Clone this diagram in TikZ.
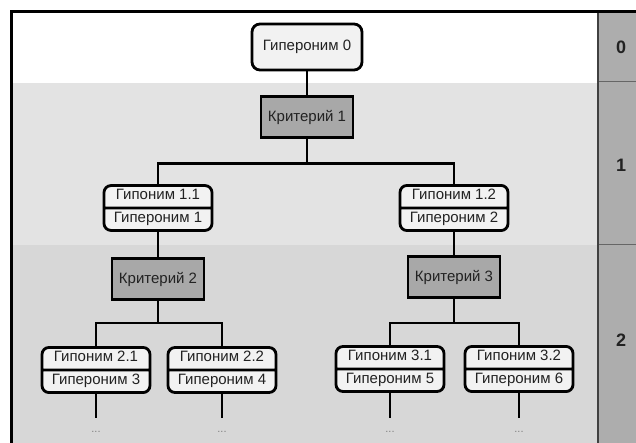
\documentclass[tikz,border=0pt]{standalone}
\usepackage{fontspec}
\setmainfont{Liberation Sans}
\usetikzlibrary{shapes.multipart}
\definecolor{bandone}{HTML}{E3E3E3}
\definecolor{bandtwo}{HTML}{D7D7D7}
\definecolor{levelcol}{HTML}{ADADAD}
\definecolor{critfill}{HTML}{A8A8A8}
\definecolor{boxfill}{HTML}{F2F2F2}
\definecolor{ink}{HTML}{222222}
\newcommand\partstrut{\rule[-4.5pt]{0pt}{14pt}}
\begin{document}
\begin{tikzpicture}[x=1pt,y=-1pt,
  txt/.style={font=\fontsize{15}{17}\selectfont, text=ink},
  rootbox/.style={txt, draw=black, line width=2.8pt, fill=boxfill, rounded corners=8pt,
    minimum width=110pt, minimum height=46pt, inner sep=0pt},
  critbox/.style={txt, draw=black, line width=2.8pt, fill=critfill,
    minimum width=92pt, minimum height=41pt, inner sep=0pt},
  twobox/.style={txt, draw=black, line width=2.8pt, fill=boxfill, rounded corners=7pt,
    rectangle split, rectangle split parts=2, rectangle split part align=center,
    minimum width=108pt, inner xsep=0pt, inner ysep=2.4pt},
  link/.style={draw=black, line width=2.8pt},
  more/.style={font=\fontsize{11}{12}\selectfont, text=gray},
  levelnum/.style={font=\fontsize{18}{20}\selectfont\bfseries, text=ink},
]
\useasboundingbox (0,0) rectangle (636,443);

% level bands
\fill[white] (11.5,11.5) rectangle (598,83);
\fill[bandone] (11.5,83) rectangle (598,245);
\fill[bandtwo] (11.5,245) rectangle (598,443);
\fill[levelcol] (598,11.5) rectangle (636,443);
\draw[line width=1pt, black!60] (598,82) -- (636,82);
\draw[line width=1pt, black!60] (598,245) -- (636,245);
\draw[line width=2.4pt, black!75] (598,11.5) -- (598,443);
\draw[line width=3pt] (11.5,443) -- (11.5,11.5) -- (636,11.5);

% level numbers
\node[levelnum] (l0) at (621,47) {0};
\node[levelnum] (l1) at (621,165) {1};
\node[levelnum] (l2) at (621,340) {2};

% tree nodes
\node[rootbox] (g0) at (307,47) {Гипероним 0};
\node[critbox] (k1) at (307,117) {Критерий 1};
\node[twobox] (h11) at (158,208) {\partstrut Гипоним 1.1\nodepart{two}\partstrut Гипероним 1};
\node[twobox] (h12) at (454,208) {\partstrut Гипоним 1.2\nodepart{two}\partstrut Гипероним 2};
\node[critbox] (k2) at (158,279) {Критерий 2};
\node[critbox] (k3) at (454,277) {Критерий 3};
\node[twobox] (h21) at (96,370) {\partstrut Гипоним 2.1\nodepart{two}\partstrut Гипероним 3};
\node[twobox] (h22) at (222,370) {\partstrut Гипоним 2.2\nodepart{two}\partstrut Гипероним 4};
\node[twobox] (h31) at (390,369) {\partstrut Гипоним 3.1\nodepart{two}\partstrut Гипероним 5};
\node[twobox] (h32) at (519,369) {\partstrut Гипоним 3.2\nodepart{two}\partstrut Гипероним 6};

% connectors
\draw[link] (g0.south) -- (k1.north);
\draw[link] (k1.south) -- ++(0,25) -| (h11.north);
\draw[link] (k1.south) -- ++(0,25) -| (h12.north);
\draw[link] (h11.south) -- (k2.north);
\draw[link] (h12.south) -- (k3.north);
\draw[link] (k2.south) -- ++(0,22) -| (h21.north);
\draw[link] (k2.south) -- ++(0,22) -| (h22.north);
\draw[link] (k3.south) -- ++(0,24) -| (h31.north);
\draw[link] (k3.south) -- ++(0,24) -| (h32.north);

% open branches
\foreach \n/\x in {h21/96, h22/222, h31/390, h32/519}{
  \coordinate (e\n) at (\x,418);
  \draw[link] (\n.south) -- (e\n);
  \node[more] (d\n) at (\x,432) {...};
}
\end{tikzpicture}
\end{document}
